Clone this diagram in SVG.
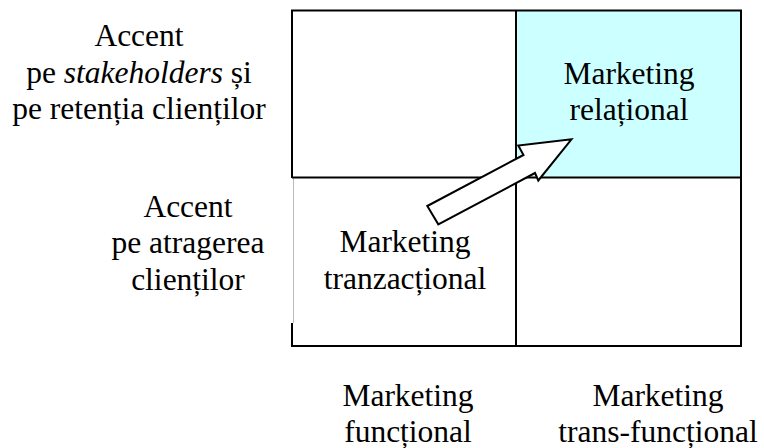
<svg xmlns="http://www.w3.org/2000/svg" width="764" height="448" viewBox="0 0 764 448">
<style>
.t{font-family:"Liberation Serif","Times New Roman",serif;font-size:31.5px;fill:#000;text-anchor:middle}
.ln{stroke:#000;stroke-width:2;fill:none}
.it{font-style:italic}
</style>
<rect width="764" height="448" fill="#fff"/>
<g id="cell-relational">
<rect x="516" y="10.5" width="225" height="167" fill="#ccffff"/>
<text class="t" x="629" y="83.5">Marketing</text>
<text class="t" x="629" y="120">relațional</text>
</g>
<g id="grid">
<line class="ln" x1="291" y1="10.5" x2="742" y2="10.5"/>
<line class="ln" x1="741" y1="10.5" x2="741" y2="347"/>
<line class="ln" x1="291" y1="346" x2="742" y2="346"/>
<line class="ln" x1="292" y1="10.5" x2="292" y2="178"/>
<line x1="293.5" y1="178" x2="293.5" y2="323" stroke="#bbb" stroke-width="1"/>
<line class="ln" x1="292" y1="323" x2="292" y2="347"/>
<line class="ln" x1="516" y1="10.5" x2="516" y2="346"/>
<line class="ln" x1="292" y1="177.5" x2="741" y2="177.5"/>
</g>
<g id="cell-tranzactional">
<text class="t" x="405" y="252">Marketing</text>
<text class="t" x="405" y="288.5">tranzacțional</text>
</g>
<g id="connectors">
<polygon points="427.3,206 523.5,155 518.3,145.5 571.5,139.3 538.3,180.5 535,173 438.3,224.3" fill="#fff" stroke="#000" stroke-width="2" stroke-linejoin="miter"/>
</g>
<g id="label-retentie">
<text class="t" x="139" y="46">Accent</text>
<text class="t" x="139" y="82.5">pe <tspan class="it">stakeholders</tspan> și</text>
<text class="t" x="139" y="119">pe retenția clienților</text>
</g>
<g id="label-atragere">
<text class="t" x="188" y="216.7">Accent</text>
<text class="t" x="188" y="253.3">pe atragerea</text>
<text class="t" x="188" y="290">clienților</text>
</g>
<g id="label-functional">
<text class="t" x="408" y="406">Marketing</text>
<text class="t" x="408" y="442">funcțional</text>
</g>
<g id="label-transfunctional">
<text class="t" x="658" y="406">Marketing</text>
<text class="t" x="658" y="442">trans-funcțional</text>
</g>
</svg>
